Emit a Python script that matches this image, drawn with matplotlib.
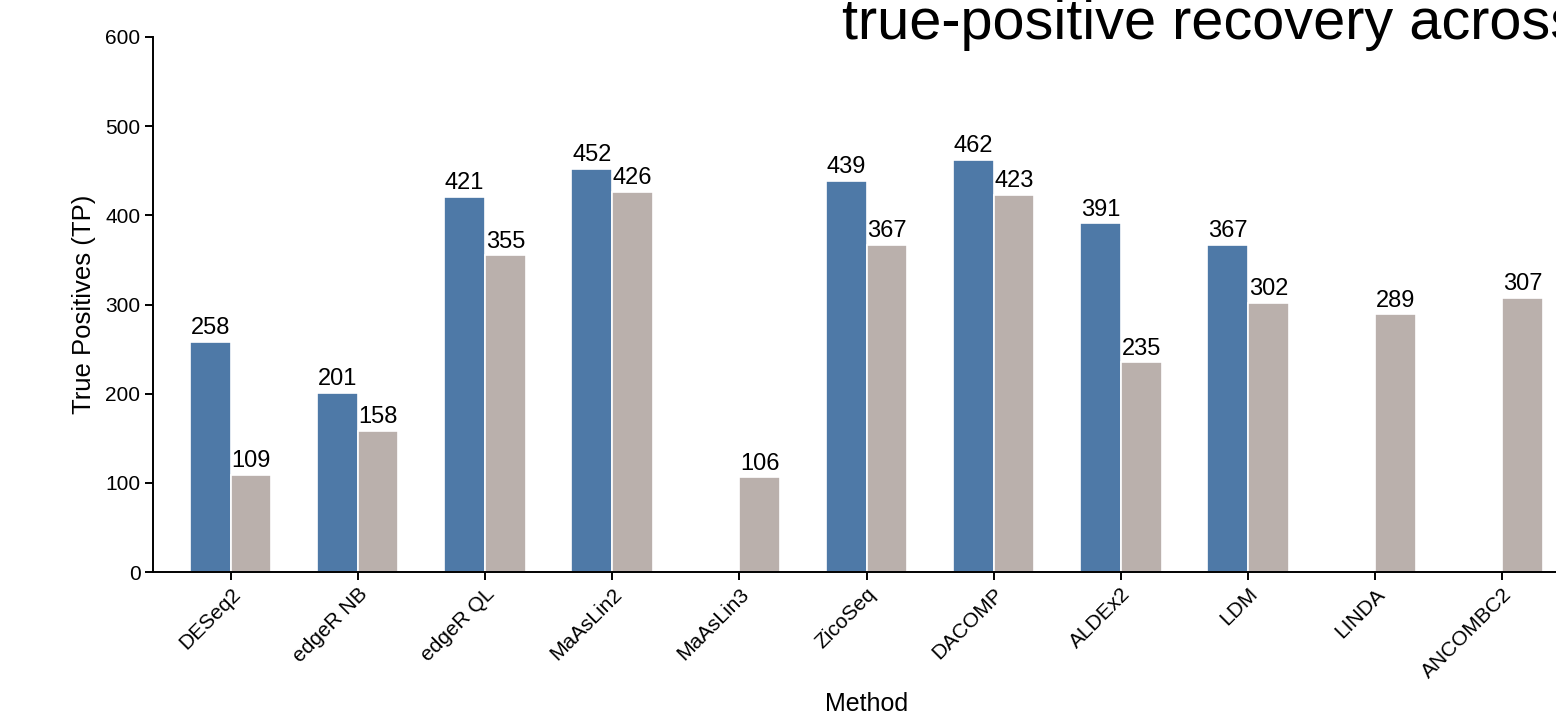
import numpy as np
import matplotlib
matplotlib.use("Agg")
import matplotlib.pyplot as plt

plt.rcParams['font.family'] = ['Liberation Sans', 'DejaVu Sans']

methods = ["DESeq2", "edgeR NB", "edgeR QL", "MaAsLin2", "MaAsLin3", "ZicoSeq",
           "DACOMP", "ALDEx2", "LDM", "LINDA", "ANCOMBC2"]
tp_series_a = [258, 201, 421, 452, np.nan, 439, 462, 391, 367, np.nan, np.nan]
tp_series_b = [109, 158, 355, 426, 106, 367, 423, 235, 302, 289, 307]
y_ticks = [0, 100, 200, 300, 400, 500, 600]

color_a = "#4e79a7"
color_b = "#bab0ac"

W, H = 1556, 720
fig = plt.figure(figsize=(W / 100, H / 100), dpi=100)
ax = fig.add_axes([153 / W, 148 / H, (1580 - 153) / W, 535 / H])

x = np.arange(len(methods))
bw = 0.32
off = 0.16

def draw_series(vals, dx, color):
    for xi, v in zip(x, vals):
        if np.isnan(v):
            continue
        ax.bar(xi + dx, v, width=bw, color=color, edgecolor="white", linewidth=1.2)
        ax.annotate(f"{int(v)}", (xi + dx, v), xytext=(0, 2.0), textcoords="offset points",
                    ha="center", va="bottom", fontsize=17)

draw_series(tp_series_a, -off, color_a)
draw_series(tp_series_b, off, color_b)

ax.set_xlim(-0.61, len(methods) - 0.39)
ax.set_ylim(0, 600)
ax.set_yticks(y_ticks)
ax.tick_params(axis="y", labelsize=15, length=6, width=1.4, pad=3)
ax.set_xticks(x)
ax.set_xticklabels(methods, rotation=45, ha="right", rotation_mode="anchor", fontsize=15)
ax.tick_params(axis="x", length=6, width=1.4, pad=3)

for s in ["top", "right"]:
    ax.spines[s].set_visible(False)
for s in ["left", "bottom"]:
    ax.spines[s].set_linewidth(1.4)

ax.set_ylabel("True Positives (TP)", fontsize=18.5)
ax.yaxis.set_label_coords(-0.040, 0.5)
ax.set_xlabel("Method", fontsize=18)
ax.xaxis.set_label_coords(0.5, -0.224)

fig.text(842 / W, 1 - 38.6 / H, "true-positive recovery across methods", fontsize=41.5,
         ha="left", va="baseline")

fig.savefig("out.png", dpi=100)
